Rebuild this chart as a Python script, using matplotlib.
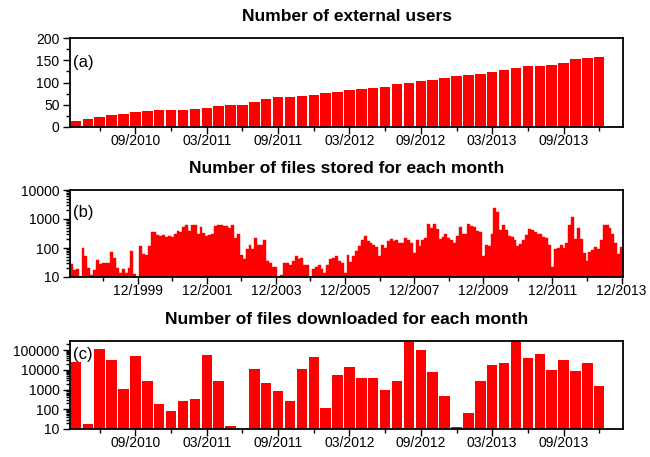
import matplotlib
matplotlib.use("Agg")
import matplotlib.pyplot as plt
from matplotlib.ticker import FixedLocator, FixedFormatter, LogLocator, NullFormatter, MultipleLocator
import numpy as np
import pandas as pd

plt.rcParams['font.family'] = ['Liberation Sans', 'DejaVu Sans']

# ---------------- data ----------------
# panels (a) and (c): monthly, 04/2010 .. 12/2013
months_ac = [p.strftime('%m/%Y') for p in pd.period_range('2010-04', '2013-12', freq='M')]
external_users = [13, 19, 22, 26, 29, 33, 35, 38, 38, 39, 41, 43, 47, 50, 50,
                  57, 63, 67, 67, 69, 72, 76, 79, 83, 86, 87, 89, 97, 99, 103,
                  106, 110, 115, 116, 118, 124, 128, 133, 137, 137, 140, 144,
                  152, 155, 157]
files_downloaded = [25000, 18, 113000, 33000, 1020, 49000, 2800, 195, 80, 270,
                     315, 58000, 2600, 15, 0, 10700, 2050, 870, 270, 11500,
                     45500, 114, 5500, 14700, 4000, 3900, 910, 2700, 267000,
                     104000, 7800, 484, 13, 63, 2600, 17800, 23400, 500000,
                     39000, 60000, 10300, 33000, 8500, 22500, 1450]
ac_major_labels = ['09/2010', '03/2011', '09/2011', '03/2012', '09/2012', '03/2013', '09/2013']
ac_minor_labels = ['06/2010', '12/2010', '06/2011', '12/2011', '06/2012', '12/2012', '06/2013', '12/2013']

# panel (b): monthly, 01/1998 .. 12/2013
months_b = [p.strftime('%m/%Y') for p in pd.period_range('1998-01', '2013-12', freq='M')]
files_stored = [28, 18, 19, 10, 100, 51, 20, 12, 17, 40, 28, 30,
                30, 30, 72, 45, 21, 14, 19, 14, 20, 76, 13, 10,
                117, 60, 59, 117, 355, 355, 282, 269, 282, 234, 269, 234,
                302, 380, 355, 525, 603, 398, 646, 646, 309, 525, 324, 269,
                282, 309, 562, 603, 603, 562, 562, 479, 603, 219, 316, 59,
                41, 93, 129, 89, 224, 129, 129, 182, 35, 31, 22, 22,
                10, 12, 31, 30, 25, 35, 51, 43, 45, 25, 25, 10,
                19, 22, 26, 19, 14, 25, 41, 45, 55, 35, 31, 14,
                59, 33, 51, 76, 117, 182, 269, 170, 151, 129, 105, 55,
                123, 100, 170, 209, 170, 195, 151, 151, 219, 182, 151, 66,
                182, 117, 182, 219, 676, 479, 676, 437, 209, 234, 309, 219,
                182, 151, 269, 525, 309, 309, 676, 562, 525, 398, 355, 55,
                123, 117, 309, 2344, 1698, 427, 631, 427, 269, 234, 182, 117,
                141, 182, 282, 437, 427, 355, 295, 309, 234, 219, 123, 22,
                89, 100, 129, 100, 151, 631, 1202, 209, 479, 209, 69, 37,
                72, 87, 110, 89, 182, 631, 603, 479, 309, 151, 60, 107]
b_major_labels = ['12/1999', '12/2001', '12/2003', '12/2005', '12/2007', '12/2009', '12/2011', '12/2013']
b_minor_labels = ['12/1998', '12/2000', '12/2002', '12/2004', '12/2006', '12/2008', '12/2010', '12/2012']

titles = ['Number of external users',
          'Number of files stored for each month',
          'Number of files downloaded for each month']
panel_tags = ['(a)', '(b)', '(c)']

# ---------------- figure ----------------
W, H = 650, 457
fig = plt.figure(figsize=(W / 100, H / 100), dpi=100)

def box(top, bottom, left=70, right=623):
    return [left / W, 1 - bottom / H, (right - left) / W, (bottom - top) / H]

ax_a = fig.add_axes(box(38, 127))
ax_b = fig.add_axes(box(190, 277))
ax_c = fig.add_axes(box(341, 429))

RED = '#ff0000'

def style(ax):
    for s in ax.spines.values():
        s.set_linewidth(1.3)
    ax.tick_params(axis='both', which='both', direction='out', top=False, right=False,
                   labelsize=10, width=1.0, color='black')
    ax.tick_params(axis='x', which='major', length=5, pad=0)
    ax.tick_params(axis='x', which='minor', length=3)
    ax.tick_params(axis='y', which='major', length=5, pad=2.5)
    ax.tick_params(axis='y', which='minor', length=3)

# (a)
xa = np.arange(len(months_ac))
ax_a.bar(xa, external_users, width=0.88, color=RED, edgecolor='none')
ax_a.set_ylim(0, 200)
ax_a.yaxis.set_major_locator(MultipleLocator(50))
ax_a.yaxis.set_minor_locator(MultipleLocator(25))

# (c)
ax_c.bar(xa, files_downloaded, width=0.88, color=RED, edgecolor='none')
ax_c.set_yscale('log')
ax_c.set_ylim(10, 2.9e5)

for ax in (ax_a, ax_c):
    ax.set_xlim(-0.5, len(months_ac) + 1.0)
    ax.xaxis.set_major_locator(FixedLocator([months_ac.index(m) for m in ac_major_labels]))
    ax.xaxis.set_major_formatter(FixedFormatter(ac_major_labels))
    ax.xaxis.set_minor_locator(FixedLocator([months_ac.index(m) for m in ac_minor_labels]))

# (b)
xb = np.arange(len(months_b))
ax_b.bar(xb, files_stored, width=1.0, color=RED, edgecolor=RED, linewidth=0.3)
ax_b.set_yscale('log')
ax_b.set_ylim(10, 10000)
ax_b.set_xlim(-0.5, len(months_b) - 0.5)
ax_b.xaxis.set_major_locator(FixedLocator([months_b.index(m) for m in b_major_labels]))
ax_b.xaxis.set_major_formatter(FixedFormatter(b_major_labels))
ax_b.xaxis.set_minor_locator(FixedLocator([months_b.index(m) for m in b_minor_labels]))

for ax in (ax_b, ax_c):
    ax.yaxis.set_major_locator(LogLocator(base=10, numticks=20))
    ax.yaxis.set_minor_locator(LogLocator(base=10, subs=np.arange(2, 10), numticks=20))
    ax.yaxis.set_minor_formatter(NullFormatter())
    ax.yaxis.set_major_formatter(matplotlib.ticker.FuncFormatter(lambda v, p: '%d' % round(v)))

tag_y = [0.73, 0.74, 0.85]
for ax, t, tag, ty in zip((ax_a, ax_b, ax_c), titles, panel_tags, tag_y):
    style(ax)
    ax.set_title(t, fontsize=12.5, fontweight='bold', pad=12.5)
    ax.text(0.005, ty, tag, transform=ax.transAxes, fontsize=12, va='center', ha='left', zorder=5)

fig.savefig('out.png', dpi=100)
